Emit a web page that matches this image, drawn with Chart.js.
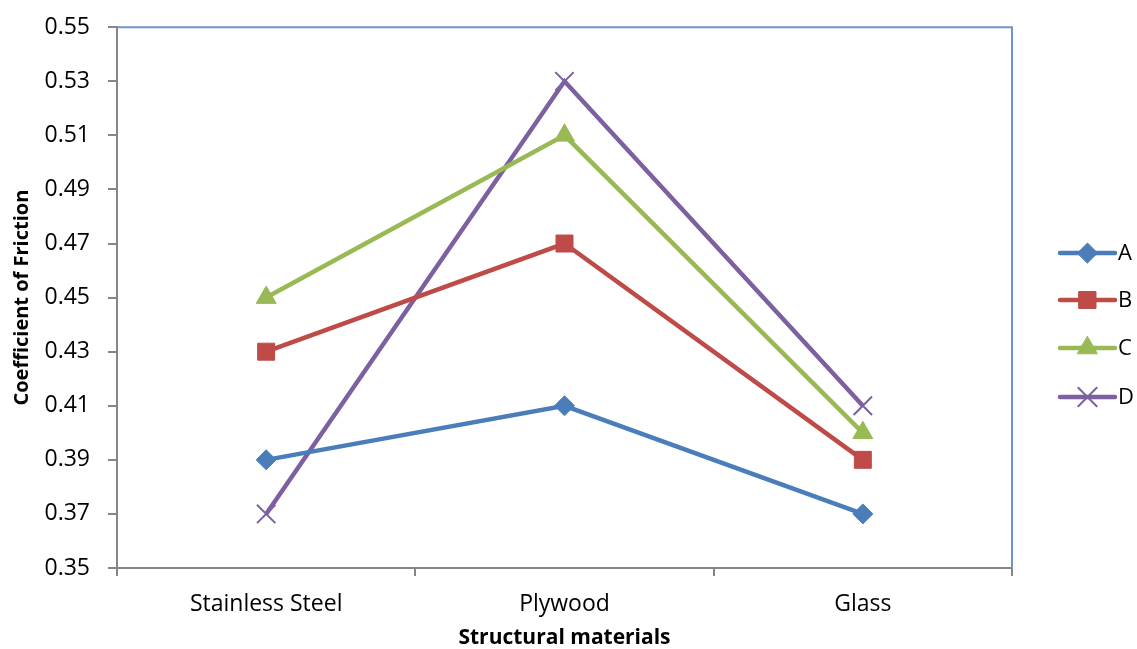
<!DOCTYPE html>
<html>
<head>
<meta charset="utf-8">
<script src="https://cdn.jsdelivr.net/npm/chart.js@4"></script>
<style>
html,body{margin:0;padding:0;background:#fff;}
#wrap{width:1137px;height:649px;position:relative;}
</style>
</head>
<body>
<div id="wrap"><canvas id="c" width="1137" height="649"></canvas></div>
<script>
const categories = ["Stainless Steel", "Plywood", "Glass"];
const seriesA = [0.39, 0.41, 0.37];
const seriesB = [0.43, 0.47, 0.39];
const seriesC = [0.45, 0.51, 0.40];
const seriesD = [0.37, 0.53, 0.41];
const seriesNames = ["A", "B", "C", "D"];
const yMin = 0.35, yMax = 0.55, yStep = 0.02;

const FONT = "'Open Sans', 'Noto Sans', sans-serif";

const legendPlugin = {
  id: 'sideLegend',
  afterDraw(chart) {
    const ctx = chart.ctx;
    const x0 = 1060, x1 = 1115, ys = [253, 300, 348, 397];
    chart.data.datasets.forEach((ds, i) => {
      const y = ys[i];
      ctx.save();
      ctx.strokeStyle = ds.borderColor;
      ctx.lineWidth = ds.borderWidth;
      ctx.lineCap = 'round';
      ctx.beginPath(); ctx.moveTo(x0, y); ctx.lineTo(x1, y); ctx.stroke();
      ctx.fillStyle = ds.pointBackgroundColor;
      ctx.strokeStyle = ds.pointBorderColor;
      ctx.lineWidth = ds.pointBorderWidth;
      Chart.helpers.drawPoint(ctx, {pointStyle: ds.pointStyle, radius: ds.pointRadius, rotation: 0, borderWidth: ds.pointBorderWidth}, (x0 + x1) / 2, y);
      ctx.fillStyle = '#000';
      ctx.font = "22px " + FONT;
      ctx.textBaseline = 'middle';
      ctx.textAlign = 'left';
      ctx.fillText(ds.label, x1 + 3, y + 1);
      ctx.restore();
    });
  }
};

const frameBorder = {
  id: 'frameBorder',
  beforeDatasetsDraw(chart) {
    const {ctx, chartArea: a} = chart;
    ctx.save();
    ctx.strokeStyle = '#6d95cf';
    ctx.lineWidth = 2;
    ctx.beginPath();
    ctx.moveTo(a.left, a.top); ctx.lineTo(a.right, a.top); ctx.lineTo(a.right, a.bottom);
    ctx.stroke();
    ctx.restore();
  }
};

function mk(label, data, color, style, r, bw) {
  return {
    label, data,
    borderColor: color, backgroundColor: color,
    pointBackgroundColor: color, pointBorderColor: color,
    pointStyle: style, pointRadius: r, pointHoverRadius: r, pointBorderWidth: bw,
    borderWidth: 4.5, tension: 0, fill: false
  };
}

new Chart(document.getElementById('c'), {
  type: 'line',
  data: {
    labels: categories,
    datasets: [
      mk(seriesNames[0], seriesA, '#4a7ebb', 'rectRot', 10, 1),
      mk(seriesNames[1], seriesB, '#be4b48', 'rect', 12, 1),
      mk(seriesNames[2], seriesC, '#98b954', 'triangle', 11.5, 1),
      mk(seriesNames[3], seriesD, '#7d60a0', 'crossRot', 13, 2)
    ]
  },
  options: {
    responsive: false,
    animation: false,
    events: [],
    layout: { padding: { left: 0, top: 14, right: 125, bottom: 0 } },
    plugins: { legend: { display: false }, tooltip: { enabled: false } },
    scales: {
      x: {
        offset: true,
        grid: { offset: true, drawOnChartArea: false, drawTicks: true, tickLength: 8, color: '#868686', lineWidth: 2 },
        border: { color: '#868686', width: 2 },
        ticks: { color: '#000', font: { family: FONT, size: 23 }, padding: 15, maxRotation: 0 },
        title: { display: true, text: 'Structural materials', color: '#000', font: { family: FONT, size: 21, weight: 'bold' }, padding: { top: 4, bottom: -2 } },
        afterFit(s) { s.height = 81; }
      },
      y: {
        min: yMin, max: yMax,
        grid: { drawOnChartArea: false, tickLength: 9, color: '#868686', lineWidth: 2 },
        border: { color: '#868686', width: 2 },
        ticks: { stepSize: yStep, color: '#000', font: { family: FONT, size: 23, lineHeight: 0.8 }, padding: 18, callback: v => Number(v).toFixed(2) },
        title: { display: true, text: 'Coefficient of Friction', color: '#000', font: { family: FONT, size: 20, weight: 'bold' }, padding: { top: 10, bottom: 0 } },
        afterFit(s) { s.width = 117; }
      }
    }
  },
  plugins: [frameBorder, legendPlugin]
});
</script>
</body>
</html>
